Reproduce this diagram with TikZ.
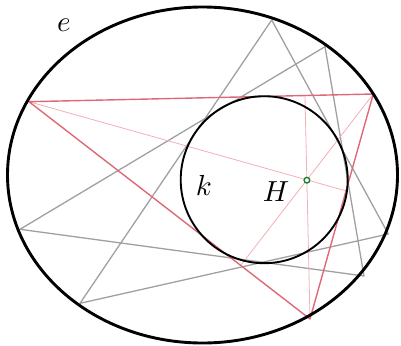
\documentclass[tikz,border=0pt]{standalone}
\usepackage{graphicx}
\usetikzlibrary{calc}
\definecolor{graylin}{RGB}{160,160,160}
\definecolor{redlin}{RGB}{222,105,118}
\definecolor{altlin}{RGB}{242,175,182}
\definecolor{hgreen}{RGB}{20,130,50}
\newcommand{\biglbl}[1]{\scalebox{2.9}{$#1$}}
\begin{document}
\begin{tikzpicture}[x=1pt,y=-1pt,
  grayside/.style={draw=graylin,line width=1.3pt,line join=round},
  redside/.style={draw=redlin,line width=1.4pt,line join=round},
  altline/.style={draw=altlin,line width=0.8pt},
  curveline/.style={draw=black,line width=1.9pt},
  outerline/.style={draw=black,line width=2.9pt},
  lbl/.style={inner sep=0pt}]
\useasboundingbox (0,0) rectangle (401,345);
% triangle vertices
\coordinate (A) at (29,101.7);
\coordinate (B) at (373.3,94);
\coordinate (C) at (310,319);
\coordinate (P1) at (271.7,20);
\coordinate (P2) at (80,303.3);
\coordinate (P3) at (388.3,234);
\coordinate (Q1) at (325,46.7);
\coordinate (Q2) at (20,229.3);
\coordinate (Q3) at (364,276);
% gray triangles
\draw[grayside] (P1) -- (P2) -- (P3) -- cycle;
\draw[grayside] (Q1) -- (Q2) -- (Q3) -- cycle;
% altitudes
\coordinate (FA) at ($(B)!(A)!(C)$);
\coordinate (FB) at ($(A)!(B)!(C)$);
\coordinate (FC) at ($(A)!(C)!(B)$);
\draw[altline] (A) -- (FA);
\draw[altline] (B) -- (FB);
\draw[altline] (C) -- (FC);
% red triangle
\draw[redside] (A) -- (B) -- (C) -- cycle;
% circle k and ellipse e
\draw[curveline] (264.2,179.7) circle [radius=83.5pt];
\draw[outerline] (202.5,175) ellipse [x radius=195pt, y radius=168pt];
% orthocenter
\coordinate (H) at (306.9,180.2);
\draw[hgreen,fill=white,line width=1.4pt] (H) circle [radius=2.8pt];
% labels
\node[lbl] (le) at (64,25) {\biglbl{e}};
\node[lbl] (lk) at (204,185) {\biglbl{k}};
\node[lbl] (lH) at (276,192) {\biglbl{H}};
\end{tikzpicture}
\end{document}
